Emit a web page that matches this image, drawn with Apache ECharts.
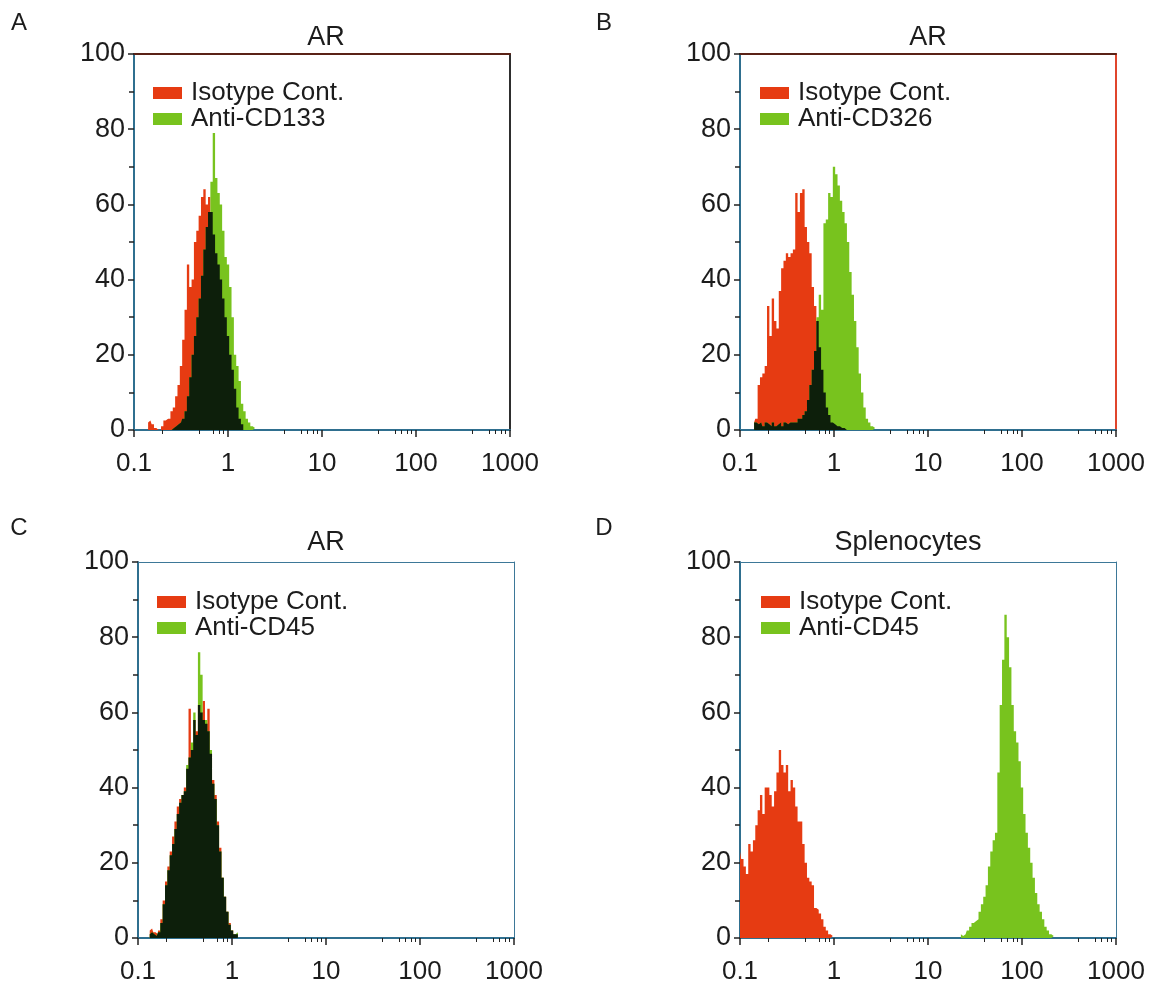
<!DOCTYPE html>
<html><head><meta charset="utf-8">
<script src="https://cdn.jsdelivr.net/npm/echarts@6/dist/echarts.min.js"></script>
<style>html,body{margin:0;padding:0;background:#fff}#c{width:1150px;height:985px}</style>
</head><body><div id="c"></div>
<script>
// ---------- data ----------
const channelStep = 0.025; // decades per histogram channel
const panelLetters = ['A', 'B', 'C', 'D'];
const panelTitles = ['AR', 'AR', 'AR', 'Splenocytes'];
const isoName = 'Isotype Cont.';
const antiNames = ['Anti-CD133', 'Anti-CD326', 'Anti-CD45', 'Anti-CD45'];

// Panel A (log10 of first channel, then counts)
const aIsoStart = -0.85;
const aIso = [2,2.5,1.5,0.5,0,0,1,2.5,3,3, 5,6,9,12,17,24,32,44,38,40, 50,53,57,62,64,60,62,58,52,47, 44,40,35,30,25,20,16,11,6,3, 1.5,0,0,0,0,0,0];
const aAntiStart = -0.85;
const aAnti = [0,0,0,0,0,0,0,0,0,0, 0,0.5,1,1.5,2,3,5,9,14,20, 25,30,35,41,48,54,58,66,79,67, 63,60,53,46,44,38,30,20,17,13, 7,5,3,2,1,0.5,0];

// Panel B
const bIsoStart = -0.85;
const bIso = [2,3,12,14,15,17,33,25,35,29, 27,37,43,45,47,46,47,48,63,58, 63,64,54,50,47,38,33,29,22,16, 10,6,4,2,1.5,1,1,0.5,0.5,0, 0,0,0,0,0,0,0,0,0,0, 0,0,0];
const bAntiStart = -0.85;
const bAnti = [2,2,1.5,2,1,2,1.5,1,2,1, 1.5,2,1,2,1.5,2,2,2,2,3, 3,4,5,8,12,16,21,30,36,32, 55,56,63,62,70,68,65,61,58,55, 50,42,36,29,22,15,10,6,3,2, 1,0.5,0];

// Panel C
const cIsoStart = -0.875;
const cIso = [2,2.5,1.5,1,2,5,10,15,19,23, 27,31,35,37,38,40,45,61,50,58, 55,62,60,63,57,61,49,42,38,31, 24,16,11,7,4,2,1,1,0];
const cAntiStart = -0.875;
const cAnti = [1,1.5,1,0.5,1.5,4,9,14,18,22, 25,29,33,36,38,39,46,48,52,60, 54,76,70,58,58,55,50,41,37,30, 23,16,11,7,3.5,2,1,1.5,0];

// Panel D
const dIsoStart = -1.0;
const dIso = [23,21,19,17,25,23,26,30,34,38, 33,40,40,38,35,39,44,50,46,44, 46,39,42,40,35,31,31,25,20,16, 15,14,8,7.5,6.5,5,3,2,1,0.5, 0];
const dAntiStart = 1.35;
const dAnti = [1,0.5,1,2,3,4,4.5,5,7,9, 11,14,19,23,26,28,44,62,74,86, 80,72,62,55,52,47,40,33,28,24, 20,16,12,9,7,5,3,2,1,0.5, 0];

// ---------- helpers ----------
const panelData = [
  { iso: [aIsoStart, aIso], anti: [aAntiStart, aAnti] },
  { iso: [bIsoStart, bIso], anti: [bAntiStart, bAnti] },
  { iso: [cIsoStart, cIso], anti: [cAntiStart, cAnti] },
  { iso: [dIsoStart, dIso], anti: [dAntiStart, dAnti] }
];
function toPoints(start, vals) {
  return vals.map((v, i) => [Math.pow(10, start + i * channelStep), v]);
}
function overlapVals(s1, v1, s2, v2) {
  const off = Math.round((s2 - s1) / channelStep);
  return v1.map((v, i) => {
    const j = i - off;
    const w = (j >= 0 && j < v2.length) ? v2[j] : 0;
    return Math.min(v, w);
  });
}
const minorDecadeSteps = [[2,5,7,8,9],[4,6,7,8,9],[4,6,7,8,9],[4,6,7,8,9]];
const minorExps = [];
minorDecadeSteps.forEach((arr, d) => arr.forEach(m => minorExps.push(d - 1 + Math.log10(m))));

// ---------- layout / style ----------
const FONT = 'Liberation Sans, Arial, Helvetica, sans-serif';
const TEXT = '#1c1c1c';
const AXIS = '#2f6f8f';
const RED = '#e63b12';
const GREEN = '#78c31e';
const DARK = '#0d1f0b';
const SIZE = 376;
const layout = [
  { left: 134, top: 54, letter: [19, 23], title: [326, 38], legend: [148, 75], bt: '#5a2216', br: '#2e2e2e', bw: 2 },
  { left: 740, top: 54, letter: [604, 23], title: [928, 38], legend: [755, 75], bt: '#5a2216', br: '#e0452c', bw: 2 },
  { left: 138, top: 562, letter: [19, 528], title: [326, 543], legend: [152, 584], bt: '#3d7898', br: '#3d7898', bw: 1 },
  { left: 740, top: 562, letter: [604, 528], title: [908, 543], legend: [756, 584], bt: '#3d7898', br: '#3d7898', bw: 1 }
];

const grid = [], xAxis = [], yAxis = [], series = [], legend = [], graphic = [];
layout.forEach((L, k) => {
  grid.push({ left: L.left, top: L.top, width: SIZE, height: SIZE, show: false });
  const xi = xAxis.length, yi = yAxis.length;
  // main log x axis
  xAxis.push({
    type: 'log', logBase: 10, min: 0.1, max: 1000, gridIndex: k, position: 'bottom',
    axisLine: { show: true, onZero: false, lineStyle: { color: AXIS, width: 2 } },
    axisTick: { show: true, length: 7, inside: false, lineStyle: { color: '#222', width: 1.5 } },
    axisLabel: { show: true, fontSize: 26, fontFamily: FONT, color: TEXT, margin: 21,
      formatter: v => String(v) },
    splitLine: { show: false }
  });
  // minor ticks overlay (exponent space)
  xAxis.push({
    type: 'value', min: -1, max: 3, gridIndex: k, position: 'bottom',
    axisLine: { show: false, onZero: false }, axisLabel: { show: false }, splitLine: { show: false },
    axisTick: { show: true, length: 4, customValues: minorExps, lineStyle: { color: '#222', width: 1 } }
  });
  // top border
  xAxis.push({
    type: 'value', min: 0, max: 1, gridIndex: k, position: 'top',
    axisLine: { show: true, onZero: false, lineStyle: { color: L.bt, width: L.bw } },
    axisTick: { show: false }, axisLabel: { show: false }, splitLine: { show: false }
  });
  yAxis.push({
    type: 'value', min: 0, max: 100, interval: 20, gridIndex: k, position: 'left',
    axisLine: { show: true, onZero: false, lineStyle: { color: AXIS, width: 2 } },
    axisTick: { show: true, length: 6, lineStyle: { color: '#222', width: 1.5 } },
    minorTick: { show: true, splitNumber: 2, length: 5, lineStyle: { color: '#222', width: 1.5 } },
    axisLabel: { fontSize: 27, fontFamily: FONT, color: TEXT, margin: 9 },
    splitLine: { show: false }
  });
  // right border
  yAxis.push({
    type: 'value', min: 0, max: 1, gridIndex: k, position: 'right',
    axisLine: { show: true, onZero: false, lineStyle: { color: L.br, width: L.bw } },
    axisTick: { show: false }, axisLabel: { show: false }, splitLine: { show: false }
  });

  const P = panelData[k];
  const base = { type: 'line', xAxisIndex: xi, yAxisIndex: yi, step: 'middle', symbol: 'none',
    lineStyle: { width: 0 }, silent: true, animation: false, clip: true };
  series.push(Object.assign({}, base, { name: isoName, color: RED, itemStyle: { color: RED },
    areaStyle: { color: RED, opacity: 1 }, data: toPoints(P.iso[0], P.iso[1]), z: 2 }));
  series.push(Object.assign({}, base, { name: antiNames[k], color: GREEN, itemStyle: { color: GREEN },
    areaStyle: { color: GREEN, opacity: 1 }, data: toPoints(P.anti[0], P.anti[1]), z: 3 }));
  series.push(Object.assign({}, base, { name: 'overlap' + k, color: DARK, itemStyle: { color: DARK },
    areaStyle: { color: DARK, opacity: 1 },
    data: toPoints(P.iso[0], overlapVals(P.iso[0], P.iso[1], P.anti[0], P.anti[1])), z: 4 }));

  legend.push({
    left: L.legend[0], top: L.legend[1], orient: 'vertical', selectedMode: false,
    data: [isoName, antiNames[k]], icon: 'rect', itemWidth: 29, itemHeight: 12, itemGap: 0,
    textStyle: { fontSize: 26, lineHeight: 25, fontFamily: FONT, color: TEXT, padding: [0, 0, 0, 4] }
  });

  graphic.push({ type: 'text', x: L.letter[0], y: L.letter[1],
    style: { text: panelLetters[k], font: '24px ' + FONT, fill: TEXT, align: 'center', verticalAlign: 'middle', textAlign: 'center', textVerticalAlign: 'middle' } });
  graphic.push({ type: 'text', x: L.title[0], y: L.title[1],
    style: { text: panelTitles[k], font: '27px ' + FONT, fill: TEXT, align: 'center', verticalAlign: 'middle', textAlign: 'center', textVerticalAlign: 'middle' } });
});

const chart = echarts.init(document.getElementById('c'), null, { renderer: 'canvas' });
chart.setOption({
  backgroundColor: '#ffffff',
  animation: false,
  grid, xAxis, yAxis, series, legend, graphic
});
</script></body></html>
